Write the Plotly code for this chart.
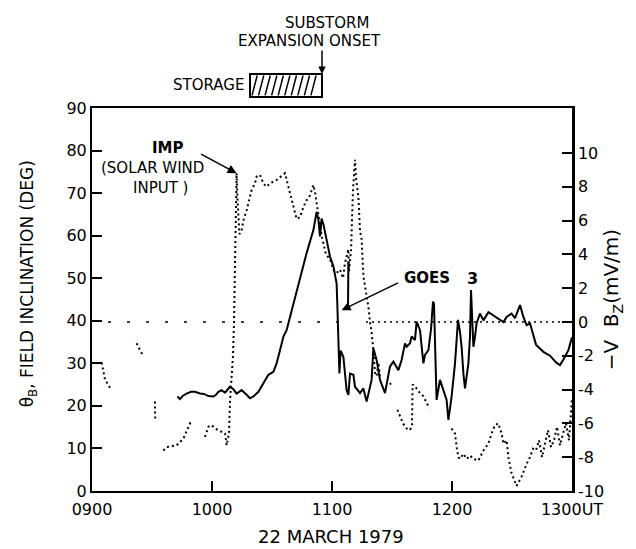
import plotly.graph_objects as go

# ---------------- data (time = minutes after 0900 UT) ----------------
goes_t = [42.7, 44, 45.5, 47.3, 49.5, 51.5, 54, 56, 58.2, 60.7, 62, 63.2, 64.8, 66.5, 69, 70.7,
          72.3, 74.8, 77.3, 79, 80.7, 83.2, 85.7, 88.2, 90.7, 92.3, 94, 95.7, 97.3, 100.7, 104,
          107.3, 110.7, 112.3, 113.2, 114, 114.8, 115.8, 117.3, 119, 120.7, 121.5, 122.3, 122.7,
          123.2, 123.7, 124.3, 125, 125.7, 127.3, 128.2, 129, 130.7, 131.5, 132.3, 134, 135.7,
          137.3, 139.8, 140.7, 142.3, 144, 146.5, 149, 150.7, 153.2, 154.8, 156.5, 157.3, 159,
          159.8, 161.5, 162.3, 164, 165.7, 166.5, 168.2, 169.5, 170.5, 171, 171.5, 172.3, 174,
          175.7, 177.3, 178.2, 179.8, 181.5, 182.3, 183, 184, 184.8, 185.7, 186.5, 188.2, 189,
          189.5, 190.2, 190.7, 191.5, 192.3, 194, 195.7, 198.2, 200.7, 203.2, 205.7, 207.3, 209.8,
          211.5, 214, 215.7, 217.3, 219, 220.3, 222, 225.7, 229, 232.3, 234, 235.7, 238.2, 240,
          None, 128.0, 128.2]
goes_deg = [22.2, 21.6, 22.4, 22.9, 23.3, 23.3, 22.9, 22.8, 22.3, 22.2, 22.6, 23.3, 23.7, 23.1, 24.5, 23.9,
            22.9, 23.7, 22.6, 21.8, 22.2, 23.3, 25.3, 27.3, 28.0, 30.0, 33.1, 36.3, 37.8, 44.1, 50.4,
            55.9, 61.3, 65.6, 63.7, 59.8, 64.0, 62.5, 59.0, 55.1, 52.8, 50.4, 48.8, 43.3,
            33.1, 27.6, 33.0, 32.3, 31.5, 23.7, 22.6, 27.6, 27.3, 24.5, 24.1, 23.0, 24.1,
            21.0, 26.1, 33.5, 30.8, 26.1, 23.0, 29.3, 30.4, 28.4, 30.8, 34.7, 33.9, 34.7,
            36.3, 35.5, 39.8, 37.8, 30.0, 32.0, 33.1, 38.0, 44.5, 44.0, 35.0, 21.4, 26.1,
            23.7, 21.4, 16.7, 22.2, 30.0, 36.3, 40.2, 37.4, 33.9, 27.6, 24.1, 30.0, 36.3,
            47.2, 40.0, 33.9, 36.2, 39.4, 41.7, 40.1, 42.0, 41.2, 40.4, 39.7, 40.9, 41.7,
            40.6, 43.7, 40.9, 39.0, 39.4, 37.0, 34.4, 32.7, 31.8, 30.1, 29.6, 30.9, 33.1, 36.1,
            None, 43.0, 54.0]

imp_t = [4.8, 6.5, 9, None,
         22.3, 24, 25.3, None,
         31.5, 31.6, None,
         35.7, 37.3, 42.3, 45.7, 49, 49.8, None,
         56.5, 58.2, 59.8, 61.5, 63.2, 66.5, 67.3, 68.2, 68.5, 69, 70.5, 71, 71.5, 71.8,
         72.3, 72.7, 73.2, 73.7, 74.8, 75.7, 77.3, 79.8, 81.5, 82.3, 84, 85.7, 87.3, 89, 92.3,
         96.5, 98.2, 100.7, 102.3, 104, 105.7, 107.3, 109, 110.7, 111.5, 113, 115, 117, 119,
         120.7, 122.3, 124, 125.5, 126.5, 127.5, 128.2, 128.5, 129.5, 130.5, 131.5, 132, 133.2,
         134, 134.8, 135.7, 138.2, 139, 139.8, 140.7, 141.5, 142.3, 143.2, 144, None,
         149, 149.8, None,
         152.7, 155.5, 157.3, 159, 160, 160.3, 161.5, 163.2, 165.7, 168.7, None,
         179.8, 181.5, 182.3, 183.2, 184, 185.7, 187.3, 189, 190.7, 193.2, 195.7, 198.2, 199.8,
         201.5, 203.2, 204.8, 205.7, 207.3, 208.2, 209.8, 212.3, 214.8, 217.3, 219, 220.5, 222,
         223.5, 225, 226.5, 228, 229.5, 231, 232.5, 234, 235.5, 237, 238.5, 240]
imp_v = [-2.4, -3.4, -3.9, None,
         -1.26, -1.66, -1.95, None,
         -4.7, -5.8, None,
         -7.6, -7.4, -7.3, -6.9, -6.0, -6.1, None,
         -6.8, -6.2, -6.1, -6.3, -6.4, -6.6, -7.3, -6.6, -6.6, -4.7, -2.0, 0.0, 2.7, 5.3,
         8.8, 7.4, 6.2, 5.2, 5.4, 6.0, 6.6, 7.8, 8.2, 8.6, 8.7, 8.2, 8.0, 8.2, 8.4,
         8.8, 8.0, 6.8, 6.1, 6.2, 6.8, 7.2, 7.5, 8.1, 7.7, 6.5, 5.0, 4.0, 3.7,
         3.1, 2.9, 3.1, 2.6, 3.5, 4.0, 4.3, 3.0, 4.2, 7.8, 9.6, 8.5, 7.4,
         5.4, 4.9, 2.7, 0.9, 0.0, -0.6, -1.7, -3.0, -3.2, -2.4, -3.3, None,
         -3.6, -3.8, None,
         -5.2, -6.0, -6.3, -6.4, -6.1, -3.7, -3.8, -4.1, -4.4, -5.1, None,
         -6.3, -6.6, -7.4, -8.0, -8.1, -7.8, -8.1, -7.9, -8.1, -8.2, -7.6, -7.2, -6.6,
         -6.1, -6.0, -6.6, -7.2, -7.0, -8.0, -8.95, -9.7, -9.15, -8.4, -8.0, -7.5, -7.6,
         -7.0, -8.0, -7.2, -6.4, -7.4, -7.0, -6.2, -7.3, -6.6, -6.0, -7.0, -4.5]

x_tickvals = [0, 60, 120, 180, 240]
x_ticktext = ["0900", "1000", "1100", "1200", "1300UT"]
left_tickvals = [0, 10, 20, 30, 40, 50, 60, 70, 80, 90]
right_tickvals = [-10, -8, -6, -4, -2, 0, 2, 4, 6, 8, 10]
right_ticktext = [str(v) for v in right_tickvals]

storage_start = 79    # ~1019 UT
storage_end = 115     # ~1055 UT (substorm expansion onset)
imp_arrow_idx = imp_t.index(72.3)

FONT = "DejaVu Sans"


def txt(text, x, y, xref="x", yref="paper", size=15, xanchor="center", angle=0, bold=False):
    return dict(text=text, x=x, y=y, xref=xref, yref=yref, showarrow=False,
                xanchor=xanchor, yanchor="middle", textangle=angle,
                font=dict(size=size, family=FONT, color="black",
                          weight="bold" if bold else "normal"))


def arrow(x, y, ax, ay, xref="x", yref="y", size=1.2):
    return dict(text="", x=x, y=y, xref=xref, yref=yref, showarrow=True, ax=ax, ay=ay,
                arrowhead=2, arrowsize=size, arrowwidth=1.5, arrowcolor="black")


fig = go.Figure()
fig.add_trace(go.Scatter(x=goes_t, y=goes_deg, mode="lines", yaxis="y",
                         line=dict(color="black", width=2), connectgaps=False,
                         hoverinfo="skip"))
fig.add_trace(go.Scatter(x=imp_t, y=imp_v, mode="lines", yaxis="y2",
                         line=dict(color="black", width=2, dash="2px,3px"),
                         connectgaps=False, hoverinfo="skip"))

shapes = []
# IMP zero reference (dotted)
shapes.append(dict(type="line", xref="x", yref="y2", x0=8, x1=126, y0=0, y1=0,
                   line=dict(color="black", width=1.5, dash="3px,16px")))
shapes.append(dict(type="line", xref="x", yref="y2", x0=137, x1=240, y0=0, y1=0,
                   line=dict(color="black", width=1.5, dash="2px,4px")))
# storage box
by0, by1 = 1.029, 1.089
shapes.append(dict(type="rect", xref="x", yref="paper", x0=storage_start, x1=storage_end,
                   y0=by0, y1=by1, line=dict(color="black", width=2), fillcolor="white"))
# hatching
step = (storage_end - storage_start) / 11.0
dx = 2.6
path = ""
k = 0
while True:
    xa = storage_start + 1.0 + k * step
    xb = xa + dx
    if xb > storage_end - 0.5:
        break
    path += f"M{xa},{by0 + 0.004} L{xb},{by1 - 0.004} "
    k += 1
shapes.append(dict(type="path", xref="x", yref="paper", path=path,
                   line=dict(color="black", width=1.5)))

annotations = [
    txt("SUBSTORM", 117.5, 1.222, size=15),
    txt("EXPANSION ONSET", 108.5, 1.176, size=15),
    arrow(storage_end, by1, 0, -25, yref="paper", size=1),
    txt("STORAGE", storage_start - 2, 1.059, xanchor="right", size=15),
    txt("IMP", 38, 0.896, size=15, bold=True),
    txt("(SOLAR WIND", 30, 0.843, size=15),
    txt("INPUT )", 34, 0.791, size=15),
    arrow(imp_t[imp_arrow_idx], imp_v[imp_arrow_idx], -37, -20, yref="y2"),
    txt("GOES", 155, 50, yref="y", xanchor="left", size=15, bold=True),
    txt("3", 190, 50, yref="y", size=16, bold=True),
    arrow(124.8, 42.5, 58, -28),
    txt("θ<sub>B</sub>, FIELD INCLINATION (DEG)", -0.133, 0.54, xref="paper",
        size=17, angle=-90),
    txt("−V  B<sub>Z</sub>(mV/m)", 1.083, 0.5, xref="paper", size=20, angle=-90),
    txt("22 MARCH 1979", 0.497, -0.12, xref="paper", size=18),
]

fig.update_layout(
    width=636, height=549, autosize=False,
    margin=dict(l=92, r=64, t=108, b=58, pad=0),
    paper_bgcolor="white", plot_bgcolor="white",
    showlegend=False,
    font=dict(family=FONT, size=16, color="black"),
    xaxis=dict(range=[0, 240], tickvals=x_tickvals, ticktext=x_ticktext,
               ticks="inside", ticklen=10, tickwidth=1.5, tickcolor="black",
               showline=True, linewidth=2, linecolor="black", mirror=True,
               showgrid=False, zeroline=False, tickfont=dict(size=16),
               ticklabelstandoff=3),
    yaxis=dict(range=[0, 90], tickvals=left_tickvals, ticks="inside", ticklen=10,
               tickwidth=1.5, tickcolor="black", showline=True, linewidth=2,
               linecolor="black", showgrid=False, zeroline=False, tickfont=dict(size=16)),
    yaxis2=dict(range=[-10, 12.66], overlaying="y", side="right", tickvals=right_tickvals,
                ticktext=right_ticktext, ticks="inside", ticklen=10, tickwidth=1.5,
                tickcolor="black", showline=True, linewidth=2.5, linecolor="black",
                showgrid=False, zeroline=False, tickfont=dict(size=16)),
    shapes=shapes,
    annotations=annotations,
)

fig.write_html("out.html")
